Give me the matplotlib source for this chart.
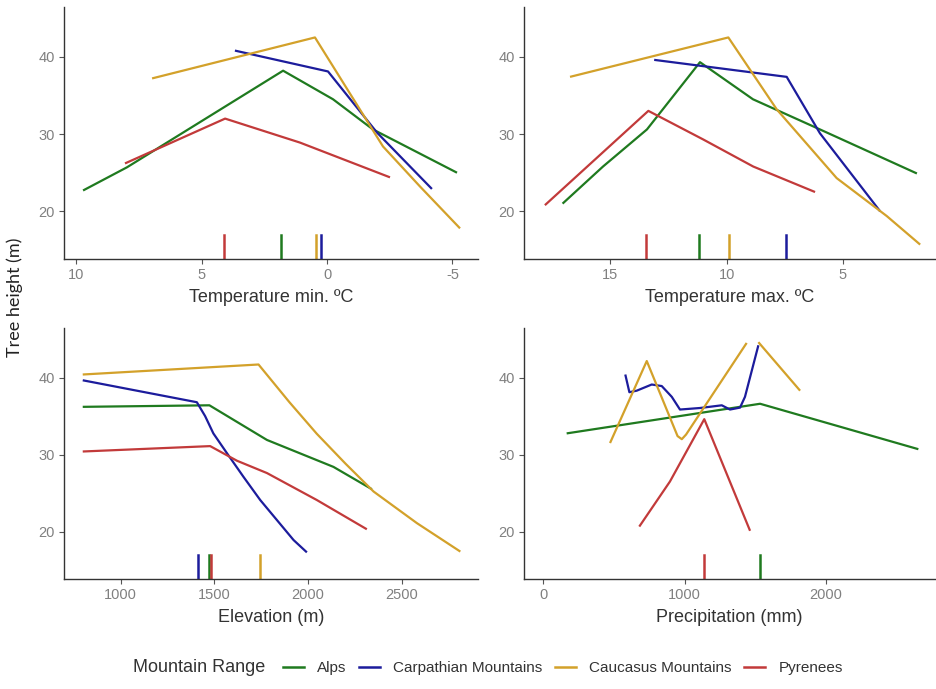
import numpy as np
import matplotlib
matplotlib.use("Agg")
import matplotlib.pyplot as plt
from matplotlib.lines import Line2D

plt.rcParams['font.family'] = ['Liberation Sans', 'DejaVu Sans']
plt.rcParams['axes.unicode_minus'] = False

ranges = ['Alps', 'Carpathian Mountains', 'Caucasus Mountains', 'Pyrenees']
colores = {'Alps': '#1f7a1f', 'Carpathian Mountains': '#1c1c9c',
           'Caucasus Mountains': '#d3a12a', 'Pyrenees': '#c23a3a'}

# Temperature min
tmin_x = {
    'Alps': [9.72, 7.97, 1.75, -0.24, -1.83, -5.18],
    'Carpathian Mountains': [3.67, -0.04, -1.99, -4.18],
    'Caucasus Mountains': [6.97, 0.48, -2.23, -3.71, -5.30],
    'Pyrenees': [8.05, 4.06, 1.08, -2.51],
}
tmin_y = {
    'Alps': [22.7, 25.7, 38.2, 34.5, 30.6, 25.0],
    'Carpathian Mountains': [40.8, 38.1, 30.2, 22.9],
    'Caucasus Mountains': [37.2, 42.5, 28.4, 23.2, 17.8],
    'Pyrenees': [26.2, 32.0, 28.9, 24.4],
}
tmin_rug = {'Alps': 1.84, 'Carpathian Mountains': 0.24,
            'Caucasus Mountains': 0.45, 'Pyrenees': 4.09}

# Temperature max
tmax_x = {
    'Alps': [17.06, 15.32, 13.43, 11.15, 8.87, 5.99, 1.82],
    'Carpathian Mountains': [13.12, 7.42, 5.99, 3.40],
    'Caucasus Mountains': [16.74, 9.93, 7.85, 5.27, 3.12, 1.68],
    'Pyrenees': [17.82, 13.37, 11.01, 8.86, 6.20],
}
tmax_y = {
    'Alps': [21.0, 25.8, 30.6, 39.3, 34.5, 30.6, 24.9],
    'Carpathian Mountains': [39.6, 37.4, 30.1, 20.0],
    'Caucasus Mountains': [37.4, 42.5, 33.2, 24.3, 19.4, 15.7],
    'Pyrenees': [20.8, 33.0, 29.3, 25.8, 22.5],
}
tmax_rug = {'Alps': 11.18, 'Carpathian Mountains': 7.45,
            'Caucasus Mountains': 9.91, 'Pyrenees': 13.47}

# Elevation
elev_x = {
    'Alps': [797, 1473, 1780, 2135, 2340],
    'Carpathian Mountains': [797, 1406, 1450, 1494, 1566, 1655, 1744, 1833,
                             1922, 1993],
    'Caucasus Mountains': [797, 1735, 1900, 2046, 2200, 2349, 2580, 2812],
    'Pyrenees': [797, 1477, 1620, 1780, 2046, 2313],
}
elev_y = {
    'Alps': [36.2, 36.4, 31.9, 28.4, 25.5],
    'Carpathian Mountains': [39.65, 36.8, 35.0, 32.75, 30.2, 27.1, 24.1, 21.5,
                             18.9, 17.3],
    'Caucasus Mountains': [40.4, 41.7, 36.8, 32.7, 28.8, 25.2, 21.1, 17.4],
    'Pyrenees': [30.4, 31.1, 29.2, 27.6, 24.1, 20.3],
}
elev_rug = {'Alps': 1471, 'Carpathian Mountains': 1414,
            'Caucasus Mountains': 1745, 'Pyrenees': 1482}

# Precipitation
prec_x = {
    'Alps': [165, 1534, 2654],
    'Carpathian Mountains': [580, 609, 661, 767, 838, 909, 967, 1109, 1263,
                             1321, 1392, 1427, 1522],
    'Caucasus Mountains': [472, 732, 950, 980, 1010, 1439, 1480, 1522, 1817],
    'Pyrenees': [679, 896, 1139, 1463],
}
prec_y = {
    'Alps': [32.75, 36.6, 30.7],
    'Carpathian Mountains': [40.4, 38.1, 38.3, 39.1, 38.9, 37.5, 35.85, 36.05,
                             36.4, 35.85, 36.1, 37.5, 44.2],
    'Caucasus Mountains': [31.5, 42.15, 32.4, 32.0, 32.6, 44.5, 45.6, 44.6, 38.3],
    'Pyrenees': [20.65, 26.5, 34.6, 20.1],
}
prec_rug = {'Alps': 1534, 'Pyrenees': 1139}

y_max = 45.0
y_lim = (13.8, 46.4)

paneles = [
    (tmin_x, tmin_y, tmin_rug, 'Temperature min. ºC', (10.48, -6.03), [10, 5, 0, -5]),
    (tmax_x, tmax_y, tmax_rug, 'Temperature max. ºC', (18.72, 1.04), [15, 10, 5]),
    (elev_x, elev_y, elev_rug, 'Elevation (m)', (697, 2908), [1000, 1500, 2000, 2500]),
    (prec_x, prec_y, prec_rug, 'Precipitation (mm)', (-137, 2772), [0, 1000, 2000]),
]

posiciones = [
    [0.0683, 0.6237, 0.4422, 0.3657],
    [0.5592, 0.6237, 0.4387, 0.3657],
    [0.0683, 0.1592, 0.4422, 0.3643],
    [0.5592, 0.1592, 0.4387, 0.3643],
]

fig = plt.figure(figsize=(9.37, 6.89), dpi=100)

for (xs, ys, rug, titulo, xlim, ticks), pos in zip(paneles, posiciones):
    ax = fig.add_axes(pos)
    for r in ranges:
        x = np.array(xs[r], dtype=float)
        y = np.array(ys[r], dtype=float)
        y = np.where(y > y_max, np.nan, y)  # out of scale limits are dropped
        ax.plot(x, y, color=colores[r], lw=1.6, solid_capstyle='butt')
    for r in ranges:
        if r in rug:
            ax.axvline(rug[r], ymin=0, ymax=0.095, color=colores[r], lw=1.8)
    ax.set_xlim(*xlim)
    ax.set_ylim(*y_lim)
    ax.set_xticks(ticks)
    ax.set_yticks([20, 30, 40])
    ax.set_xlabel(titulo, fontsize=13, color='#333333', labelpad=5)
    for s in ['top', 'right']:
        ax.spines[s].set_visible(False)
    for s in ['left', 'bottom']:
        ax.spines[s].set_color('#333333')
        ax.spines[s].set_linewidth(1.0)
    ax.tick_params(length=3.5, width=0.8, color='#555555',
                   labelcolor='#808080', labelsize=10.5, pad=3)

fig.text(0.016, 0.569, 'Tree height (m)', rotation=90, va='center', ha='center',
         fontsize=13, family=['Lato', 'DejaVu Sans'], color='#222222')

fig.text(0.142, 0.0305, 'Mountain Range', va='center', ha='left',
         fontsize=13, color='#333333')
handles = [Line2D([], [], color=colores[r], lw=1.8) for r in ranges]
fig.legend(handles, ranges, loc='center left', bbox_to_anchor=(0.302, 0.0305),
           ncol=4, frameon=False, fontsize=11, handlelength=1.4,
           handletextpad=0.85, columnspacing=0.8, borderpad=0, borderaxespad=0,
           labelcolor='#333333')

fig.savefig('out.png', dpi=100)
